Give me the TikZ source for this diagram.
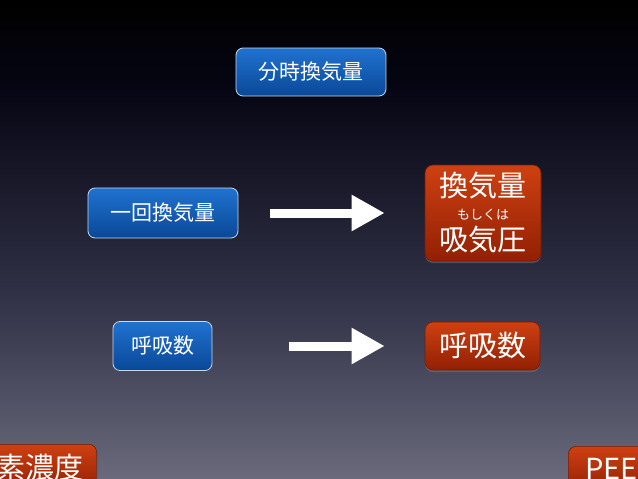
\documentclass[tikz,border=0pt]{standalone}
\usepackage{fontspec}
\setmainfont{Noto Sans CJK JP}
\usetikzlibrary{positioning,shadows,arrows.meta}

\definecolor{bgtop}{RGB}{6,6,20}
\definecolor{bgmid}{RGB}{50,50,72}
\definecolor{bgbot}{RGB}{106,106,124}
\definecolor{bluetop}{RGB}{32,114,208}
\definecolor{bluebot}{RGB}{10,72,152}
\definecolor{blueedge}{RGB}{200,216,236}
\definecolor{redtop}{RGB}{206,64,18}
\definecolor{redbot}{RGB}{146,32,4}
\definecolor{rededge}{RGB}{120,26,0}

\begin{document}
\begin{tikzpicture}[%
x=1pt, y=-1pt,
bluebox/.style={draw=blueedge, line width=0.8pt, rounded corners=7pt,
  top color=bluetop, bottom color=bluebot, text=white, inner sep=0pt,
  font=\fontsize{21}{24}\selectfont},
redbox/.style={draw=rededge, line width=0.6pt, rounded corners=8pt,
  top color=redtop, bottom color=redbot, text=white, inner sep=0pt,
  drop shadow={opacity=0.45, shadow xshift=0pt, shadow yshift=-2pt},
  font=\fontsize{29}{32}\selectfont},
bigarrow/.style={draw=white, line width=9pt, -{Triangle[length=33pt,width=34pt]}}
]

% background
\useasboundingbox (0,0) rectangle (638,479);
\clip (0,0) rectangle (638,479);
\fill[top color=black, bottom color=bgtop] (0,0) rectangle (638,91);
\fill[top color=bgtop, bottom color=bgmid] (0,90) rectangle (638,301);
\fill[top color=bgmid, bottom color=bgbot] (0,300) rectangle (638,479);

\node[bluebox, minimum width=150pt, minimum height=48pt] (mv) at (311,72) {分時換気量};
\node[bluebox, minimum width=150pt, minimum height=50pt] (tv) at (163,213) {一回換気量};
\node[bluebox, minimum width=99pt, minimum height=49pt] (rr) at (162.5,346) {呼吸数};

\node[redbox, minimum width=116pt, minimum height=96pt, align=center] (vt) at (483,213)
  {換気量\\[-9pt]{\fontsize{13}{14}\selectfont もしくは}\\[-1pt]吸気圧};
\node[redbox, minimum width=115pt, minimum height=48pt] (rr2) at (482.5,346) {呼吸数};

% cut-off boxes at the bottom
\node[redbox, anchor=north east, minimum height=46pt, inner xsep=13pt,
  text width=120pt, align=right] (o2) at (97,444) {素濃度};
\node[redbox, anchor=north west, minimum height=46pt, inner xsep=17pt] (peep) at (568,446) {PEEP};

\draw[bigarrow, shorten <=32pt, shorten >=40pt] (tv) -- (vt);
\draw[bigarrow, shorten <=77pt, shorten >=40pt] (rr) -- (rr2);

\end{tikzpicture}
\end{document}
